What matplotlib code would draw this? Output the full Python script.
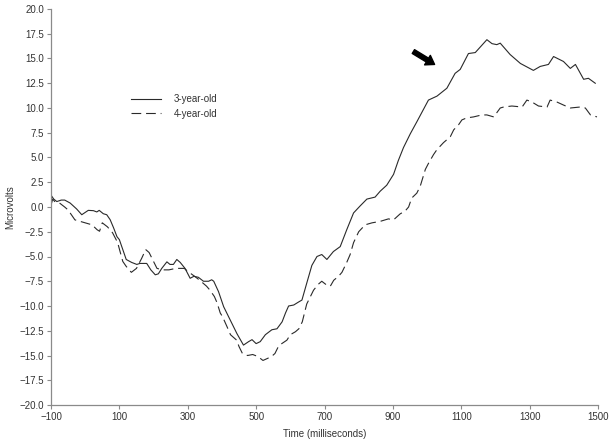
import matplotlib
matplotlib.use("Agg")
import matplotlib.pyplot as plt
from matplotlib.ticker import FuncFormatter

# ---- data ----
t3 = [-100, -92, -83, -70, -60, -44, -25, -10, 9, 24, 34, 41, 53, 63, 73, 83, 93, 100,
      110, 120, 136, 151, 160, 180, 192, 205, 214, 224, 239, 248, 258, 268, 278, 292,
      307, 318, 331, 346, 361, 370, 376, 390, 405, 424, 444, 463, 478, 488, 500, 512,
      527, 546, 561, 576, 586, 595, 610, 624, 634, 648, 663, 678, 692, 707, 726, 746,
      765, 785, 804, 824, 848, 863, 882, 902, 916, 931, 951, 970, 1004, 1029, 1058,
      1082, 1097, 1121, 1141, 1175, 1190, 1204, 1214, 1243, 1273, 1311, 1331, 1355,
      1370, 1399, 1419, 1434, 1458, 1472, 1492]
v3 = [1.2, 0.8, 0.55, 0.7, 0.7, 0.4, -0.2, -0.78, -0.34, -0.37, -0.5, -0.34, -0.68,
      -0.78, -1.28, -2.1, -3.0, -3.3, -4.3, -5.3, -5.6, -5.8, -5.7, -5.7, -6.35, -6.85,
      -6.75, -6.2, -5.54, -5.8, -5.8, -5.3, -5.6, -6.2, -7.2, -7.0, -7.1, -7.5, -7.5,
      -7.35, -7.5, -8.55, -10.07, -11.4, -12.8, -13.95, -13.6, -13.4, -13.8, -13.6,
      -12.9, -12.4, -12.3, -11.6, -10.7, -10.0, -9.9, -9.6, -9.4, -7.7, -5.9, -5.0,
      -4.8, -5.3, -4.5, -4.0, -2.3, -0.6, 0.1, 0.8, 1.0, 1.6, 2.2, 3.3, 4.7, 6.0, 7.4,
      8.6, 10.8, 11.2, 12.0, 13.5, 13.9, 15.5, 15.6, 16.9, 16.5, 16.4, 16.55, 15.4,
      14.5, 13.8, 14.2, 14.4, 15.2, 14.7, 14.0, 14.4, 12.9, 13.0, 12.5]

t4 = [-100, -95, -88, -75, -60, -50, -40, -30, -15, 0, 20, 35, 42, 50, 65, 80, 95, 102,
      110, 120, 135, 150, 165, 177, 187, 197, 210, 225, 245, 265, 290, 300, 320, 335,
      355, 365, 378, 386, 395, 402, 415, 425, 443, 450, 460, 475, 490, 505, 520, 533,
      545, 555, 565, 575, 590, 600, 615, 625, 635, 648, 658, 668, 682, 692, 705, 717,
      727, 741, 751, 765, 775, 785, 800, 819, 839, 863, 887, 902, 921, 936, 946, 955,
      970, 980, 995, 1004, 1019, 1029, 1048, 1068, 1078, 1092, 1102, 1116, 1136, 1160,
      1175, 1195, 1214, 1224, 1248, 1278, 1292, 1307, 1326, 1351, 1360, 1380, 1399,
      1419, 1448, 1463, 1478, 1497]
v4 = [0.2, 0.8, 0.5, 0.4, 0.0, -0.3, -0.8, -1.3, -1.45, -1.6, -1.8, -2.3, -2.45, -1.6,
      -2.0, -2.6, -3.6, -4.5, -5.5, -6.0, -6.6, -6.2, -5.2, -4.3, -4.6, -5.3, -6.2,
      -6.35, -6.35, -6.2, -6.2, -6.5, -7.0, -7.4, -8.0, -8.4, -9.05, -9.7, -10.7,
      -11.1, -12.1, -12.9, -13.45, -14.1, -14.8, -15.0, -14.9, -15.1, -15.5, -15.3,
      -15.1, -14.8, -14.1, -13.8, -13.45, -12.9, -12.6, -12.3, -11.6, -9.8, -9.1, -8.4,
      -7.8, -7.5, -7.85, -8.0, -7.4, -7.0, -6.6, -5.6, -4.8, -3.6, -2.5, -1.8, -1.6,
      -1.45, -1.2, -1.3, -0.7, -0.4, 0.0, 0.9, 1.4, 2.1, 3.8, 4.4, 5.3, 5.8, 6.5, 7.1,
      7.8, 8.3, 8.8, 9.0, 9.1, 9.3, 9.3, 9.1, 10.0, 10.1, 10.2, 10.1, 10.8, 10.6, 10.2,
      10.1, 10.8, 10.6, 10.3, 10.0, 10.1, 10.0, 9.3, 9.1]

labels = ["3-year-old", "4-year-old"]
xticks = [-100, 100, 300, 500, 700, 900, 1100, 1300, 1500]
yticks = [-20.0, -17.5, -15.0, -12.5, -10.0, -7.5, -5.0, -2.5, 0.0, 2.5, 5.0, 7.5,
          10.0, 12.5, 15.0, 17.5, 20.0]
arrow_tail = (960, 15.7)
arrow_tip = (1022, 14.4)

plt.rcParams['font.family'] = ['Liberation Sans', 'DejaVu Sans']
plt.rcParams['lines.scale_dashes'] = False

fig = plt.figure(figsize=(6.15, 4.43), dpi=100)
ax = fig.add_axes([51/615, 38/443, (598-51)/615, (405-9)/443])

lc = '#2a2a2a'
ax.plot(t3, v3, color=lc, lw=0.8, label=labels[0])
ax.plot(t4, v4, color=lc, lw=0.8, dashes=(7, 3.5), label=labels[1])

ax.annotate('', xy=arrow_tip, xytext=arrow_tail,
            arrowprops=dict(facecolor='black', edgecolor='black', width=3.2,
                            headwidth=8, headlength=6, shrink=0))

ax.set_xlim(-100, 1500)
ax.set_ylim(-20, 20)
ax.set_xticks(xticks)
ax.set_yticks(yticks)
ax.yaxis.set_major_formatter(FuncFormatter(lambda v, p: f"{v:.1f}".replace('-', '\u2212')))
ax.xaxis.set_major_formatter(FuncFormatter(lambda v, p: f"{v:.0f}".replace('-', '\u2212')))

for s in ['top', 'right']:
    ax.spines[s].set_visible(False)
for s in ['left', 'bottom']:
    ax.spines[s].set_color('#8a8a8a')
    ax.spines[s].set_linewidth(0.9)
ax.tick_params(axis='both', direction='out', length=3, width=0.8, color='#8a8a8a',
               labelsize=7, labelcolor='#333333', pad=2)

ax.set_xlabel('Time (milliseconds)', fontsize=7, color='#333333', labelpad=5)
ax.set_ylabel('Microvolts', fontsize=7, color='#333333', labelpad=3)

leg = ax.legend(loc='upper left', bbox_to_anchor=(0.146, 0.785), frameon=False,
                fontsize=7, handlelength=3.1, handletextpad=1.3, labelspacing=0.45,
                borderpad=0, borderaxespad=0)
for txt in leg.get_texts():
    txt.set_color('#333333')

fig.savefig('out.png', dpi=100)
